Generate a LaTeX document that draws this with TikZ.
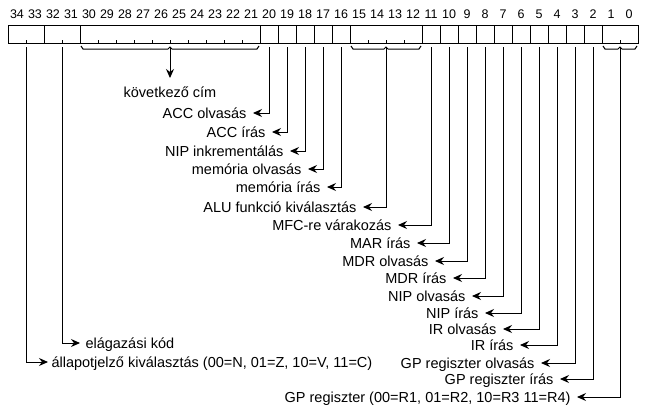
\documentclass[tikz,border=0pt]{standalone}
\usepackage{fontspec}
\setmainfont{Liberation Sans}
\usetikzlibrary{arrows.meta}
\begin{document}
\begin{tikzpicture}[x=1pt,y=-1pt,line width=1pt,
  field/.style={draw, minimum height=18pt, inner sep=0pt, outer sep=0pt, anchor=north west},
  bitnum/.style={font=\fontsize{12.5}{14}\selectfont, inner sep=0pt},
  lab/.style={font=\fontsize{14.5}{16}\selectfont, inner xsep=6pt, inner ysep=0pt, text height=10.4pt, text depth=0pt, anchor=east},
  labw/.style={lab, anchor=west, inner xsep=3pt},
  arr/.style={-{Stealth[length=9pt,width=8pt,inset=3pt]}}]
\useasboundingbox[fill=white] (0,0) rectangle (648,415);
% bit numbers
\foreach \i in {0,...,34} \node[bitnum] (n\i) at ({17+(34-\i)*18},14) {\i};
% fields
\node[field, minimum width=36pt] (f34) at (8,25) {};
\node[field, minimum width=36pt] (f32) at (44,25) {};
\node[field, minimum width=180pt] (f30) at (80,25) {};
\foreach \b in {20,...,16} \node[field, minimum width=18pt] (f\b) at ({8+(34-\b)*18},25) {};
\node[field, minimum width=72pt] (f15) at (350,25) {};
\foreach \b in {11,...,2} \node[field, minimum width=18pt] (f\b) at ({8+(34-\b)*18},25) {};
\node[field, minimum width=36pt] (f1) at (602,25) {};
% ticks inside grouped fields
\foreach \x in {26,62,98,116,...,242,368,386,404,620} \draw (\x,43) -- (\x,40);
% braces
\foreach \f in {f30,f15,f1}{
  \draw ([shift={(1,3)}]\f.south west) -- ([shift={(3,6)}]\f.south west)
     -- ([shift={(-2,6)}]\f.south) -- ([shift={(0,4)}]\f.south) -- ([shift={(2,6)}]\f.south)
     -- ([shift={(-3,6)}]\f.south east) -- ([shift={(-1,3)}]\f.south east);
  \coordinate (c\f) at ([shift={(0,4)}]\f.south);
}
% labels
\node[font=\fontsize{14.5}{16}\selectfont, inner xsep=0pt, inner ysep=9pt, text height=10.4pt, text depth=0pt, anchor=north] (l30) at (170,78) {következő cím};
\node[lab] (l20) at (253,113) {ACC olvasás};
\node[lab] (l19) at (272,132) {ACC írás};
\node[lab] (l18) at (290,151) {NIP inkrementálás};
\node[lab] (l17) at (308,169) {memória olvasás};
\node[lab] (l16) at (327,187) {memória írás};
\node[lab] (l15) at (363,207) {ALU funkció kiválasztás};
\node[lab] (l11) at (398,225) {MFC-re várakozás};
\node[lab] (l10) at (417,243) {MAR írás};
\node[lab] (l9) at (435,261) {MDR olvasás};
\node[lab] (l8) at (453,278) {MDR írás};
\node[lab] (l7) at (472,296) {NIP olvasás};
\node[lab] (l6) at (485,313) {NIP írás};
\node[lab] (l5) at (503,329) {IR olvasás};
\node[lab] (l4) at (520,345) {IR írás};
\node[lab] (l3) at (541,363) {GP regiszter olvasás};
\node[lab] (l2) at (560,379) {GP regiszter írás};
\node[lab] (l1) at (577,397) {GP regiszter (00=R1, 01=R2, 10=R3 11=R4)};
\node[labw, inner xsep=5pt] (l32) at (80,343) {elágazási kód};
\node[labw] (l34) at (48,362) {állapotjelző kiválasztás (00=N, 01=Z, 10=V, 11=C)};
% connectors
\draw[arr] (cf30) -- (l30);
\draw[arr] (cf15) |- (l15);
\draw[arr] (cf1) |- (l1);
\foreach \b in {20,19,18,17,16,11,10,9,8,7,6,5,4,3,2,34,32}
  \draw[arr] ([yshift=-4pt]f\b.south) |- (l\b);
\end{tikzpicture}
\end{document}
